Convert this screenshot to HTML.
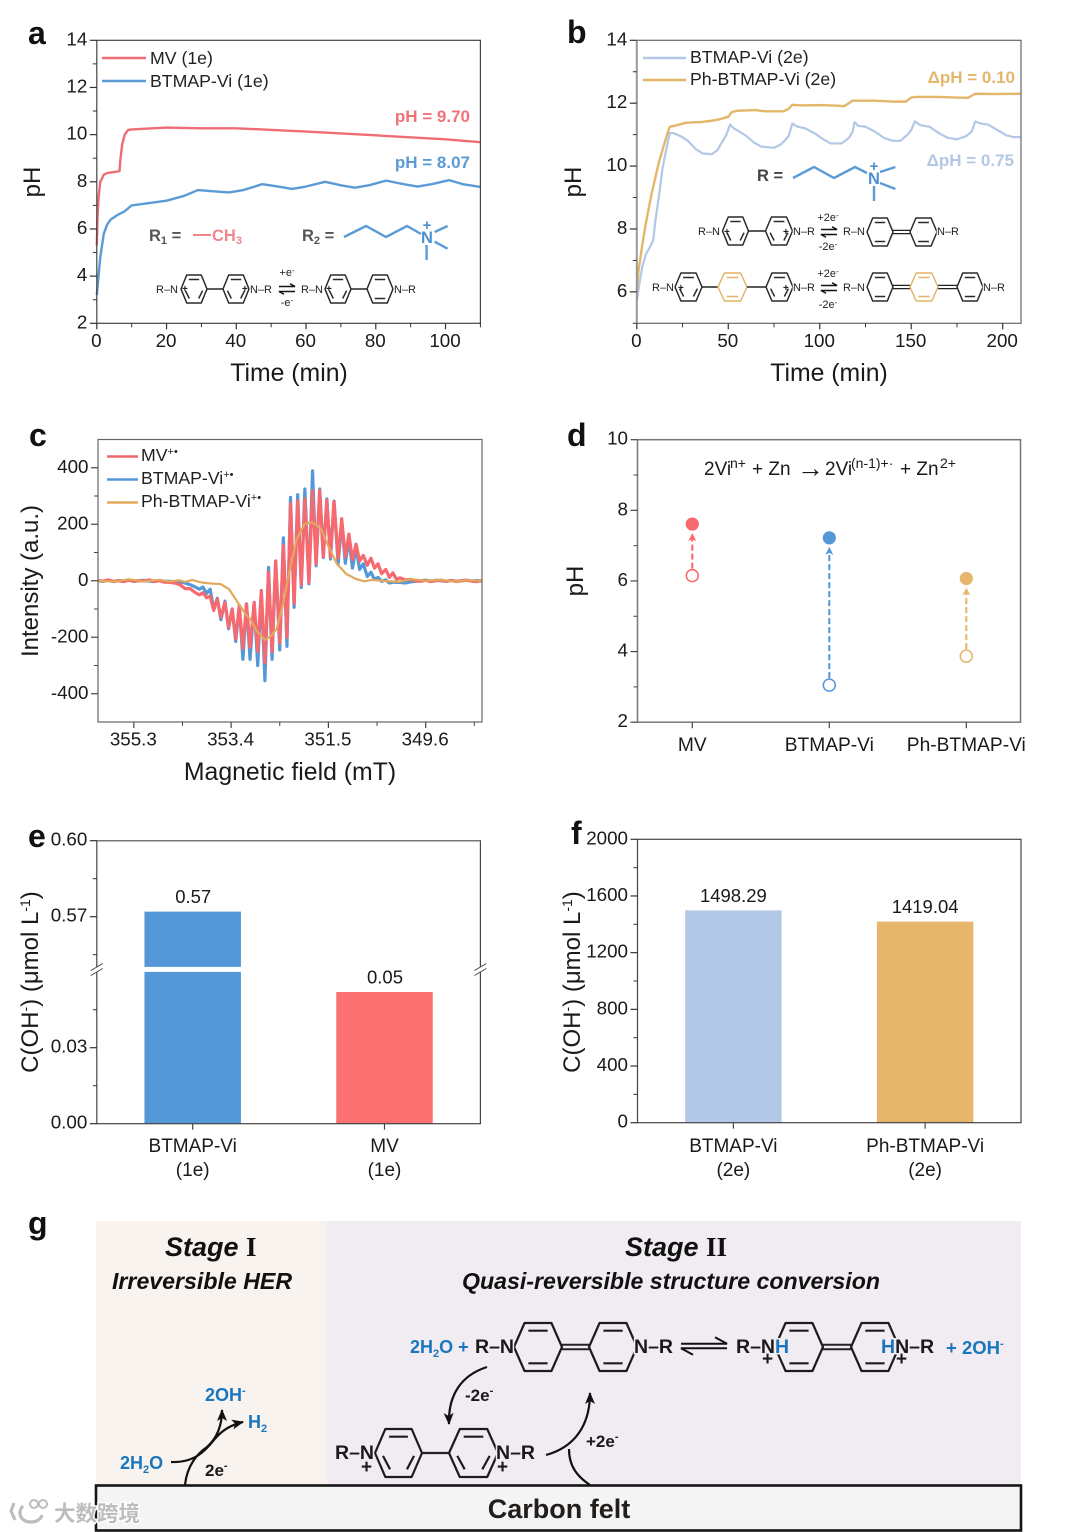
<!DOCTYPE html>
<html lang="en">
<head>
<meta charset="utf-8">
<title>Viologen pH and EPR figure</title>
<style>
html,body{margin:0;padding:0;background:#fff;}
svg{display:block;font-family:"Liberation Sans",Arial,sans-serif;}
.letter{font-size:32px;font-weight:bold;fill:#111;}
.tick{font-size:18.8px;fill:#1a1a1a;}
.dcat{font-size:19.2px;fill:#1a1a1a;}
.title{font-size:24px;fill:#1a1a1a;}
.xtitle{font-size:24.8px;fill:#1a1a1a;}
.legend{font-size:17.7px;fill:#222;}
.anno{font-size:17px;font-weight:bold;}
.cat{font-size:19px;fill:#1a1a1a;}
.val{font-size:18.5px;fill:#1a1a1a;}
.mol{font-size:11px;fill:#222;paint-order:stroke;stroke:#fff;stroke-width:2.4px;}
.chg{font-size:10px;font-weight:bold;fill:#222;}
.gb{font-size:19px;font-weight:bold;fill:#1a1a1a;}
.gn{font-size:19.5px;font-weight:bold;fill:#1a1a1a;paint-order:stroke;stroke:#f1ebf2;stroke-width:3px;}
.gblue{font-size:18px;font-weight:bold;fill:#1a76bd;}
.stage{font-size:27px;font-weight:bold;font-style:italic;fill:#111;}
.sub{font-size:23.15px;font-weight:bold;font-style:italic;fill:#111;}
.roman{font-family:"Liberation Serif",serif;font-style:normal;font-weight:bold;}
</style>
</head>
<body>
<svg id="fig" xmlns="http://www.w3.org/2000/svg" width="1080" height="1532" viewBox="0 0 1080 1532">
  <defs>
    <marker id="headBig" markerWidth="14" markerHeight="14" refX="11" refY="5" orient="auto" markerUnits="userSpaceOnUse"><path d="M0 0 L12 5 L0 10 L3 5 Z" fill="#111"/></marker>
  </defs>

  <g id="panelG">
    <rect x="96" y="1221" width="231" height="264" fill="#f9f3ef"/>
    <rect x="327" y="1221" width="694" height="264" fill="#f1ebf2"/>
    <g id="molecules"></g>
    <text class="stage" x="165" y="1256">Stage <tspan class="roman">I</tspan></text>
    <text class="sub" x="112" y="1289">Irreversible HER</text>
    <text class="stage" x="625" y="1256">Stage <tspan class="roman">II</tspan></text>
    <text class="sub" x="462" y="1289">Quasi-reversible structure conversion</text>

    <text class="gblue" x="205" y="1401">2OH<tspan font-size="11" dy="-7">-</tspan></text>
    <text class="gblue" x="248" y="1428">H<tspan font-size="11" dy="4">2</tspan></text>
    <text class="gblue" x="120" y="1469">2H<tspan font-size="11" dy="4">2</tspan><tspan dy="-4">O</tspan></text>
    <text class="gb" x="205" y="1476" style="font-size:17px">2e<tspan font-size="11" dy="-7">-</tspan></text>
    <path d="M171 1462 C195 1463 206 1450 214 1440 C221 1431 230 1425 243 1422" fill="none" stroke="#111" stroke-width="2.2" marker-end="url(#headBig)"/>
    <path d="M185 1485 C187 1465 198 1453 207 1447 C217 1438 222 1425 222 1410" fill="none" stroke="#111" stroke-width="2.2" marker-end="url(#headBig)"/>

    <text class="gblue" x="410" y="1353">2H<tspan font-size="11" dy="4">2</tspan><tspan dy="-4">O +</tspan></text>
    <text class="gn" x="514" y="1353" text-anchor="end">R–N</text>
    <text class="gn" x="634" y="1353">N–R</text>
    <text class="gn" x="736" y="1353">R–N<tspan fill="#1a76bd">H</tspan></text>
    <text class="gn" x="881" y="1353"><tspan fill="#1a76bd">H</tspan>N–R</text>
    <text class="gb" x="762" y="1365">+</text>
    <text class="gb" x="896" y="1365">+</text>
    <text class="gblue" x="946" y="1354" style="font-size:18.5px">+ 2OH<tspan font-size="11" dy="-7">-</tspan></text>
    <text class="gb" x="465" y="1401" style="font-size:17px">-2e<tspan font-size="11" dy="-7">-</tspan></text>
    <text class="gb" x="586" y="1447" style="font-size:17px">+2e<tspan font-size="11" dy="-7">-</tspan></text>
    <path d="M487 1367 C462 1375 448 1394 449 1424" fill="none" stroke="#111" stroke-width="2.2" marker-end="url(#headBig)"/>
    <path d="M546 1455 C575 1447 590 1425 590 1393" fill="none" stroke="#111" stroke-width="2.2" marker-end="url(#headBig)"/>
    <path d="M590 1485 C578 1477 569 1467 569 1449" fill="none" stroke="#111" stroke-width="2.2"/>
    <text class="gn" x="374" y="1459" text-anchor="end">R–N</text>
    <text class="gn" x="496" y="1459">N–R</text>
    <text class="gb" x="361" y="1473">+</text>
    <text class="gb" x="497" y="1473">+</text>

    <rect x="96" y="1485.5" width="925" height="45" fill="#f4f4f4" stroke="#151515" stroke-width="2.6"/>
    <text x="559" y="1518" text-anchor="middle" font-size="27" font-weight="bold" fill="#221e1c">Carbon felt</text>

    <g>
      <path d="M14 1503 L11 1511 L15 1520 M23 1506 C17 1512 20 1522 31 1522 C37 1522 41 1519 42 1515" fill="none" stroke="#fff" stroke-width="6"/>
      <path d="M14 1503 L11 1511 L15 1520 M23 1506 C17 1512 20 1522 31 1522 C37 1522 41 1519 42 1515" fill="none" stroke="#bdbdbd" stroke-width="3.2"/>
      <circle cx="34" cy="1504" r="4" fill="none" stroke="#bdbdbd" stroke-width="2"/>
      <circle cx="43" cy="1504" r="4" fill="none" stroke="#bdbdbd" stroke-width="2"/>
      <text x="54" y="1521" font-size="21.5" font-weight="bold" fill="#bdbdbd" stroke="#ffffff" stroke-width="2.5" paint-order="stroke" style="font-family:'Liberation Sans','Noto Sans CJK SC',sans-serif">大数跨境</text>
    </g>
  </g>

  <!-- panel letters -->
  <text class="letter" x="28" y="44">a</text>
  <text class="letter" x="567" y="43">b</text>
  <text class="letter" x="29" y="446">c</text>
  <text class="letter" x="567" y="446">d</text>
  <text class="letter" x="28" y="847">e</text>
  <text class="letter" x="571" y="844">f</text>
  <text class="letter" x="28" y="1234">g</text>

  <!-- axis titles -->
  <text class="xtitle" x="289" y="381" text-anchor="middle">Time (min)</text>
  <text class="title" transform="rotate(-90 40 182)" x="40" y="182" text-anchor="middle">pH</text>
  <text class="xtitle" x="829" y="381" text-anchor="middle">Time (min)</text>
  <text class="title" transform="rotate(-90 581 182)" x="581" y="182" text-anchor="middle">pH</text>
  <text class="xtitle" x="290" y="780" text-anchor="middle">Magnetic field (mT)</text>
  <text class="title" transform="rotate(-90 38 581)" x="38" y="581" text-anchor="middle">Intensity (a.u.)</text>
  <text class="title" transform="rotate(-90 583 581)" x="583" y="581" text-anchor="middle">pH</text>
  <text class="title" transform="rotate(-90 38 982)" x="38" y="982" text-anchor="middle">C(OH<tspan font-size="14" dy="-8">-</tspan><tspan dy="8">) (μmol L</tspan><tspan font-size="14" dy="-8">-1</tspan><tspan dy="8">)</tspan></text>
  <text class="title" transform="rotate(-90 580 982)" x="580" y="982" text-anchor="middle">C(OH<tspan font-size="14" dy="-8">-</tspan><tspan dy="8">) (μmol L</tspan><tspan font-size="14" dy="-8">-1</tspan><tspan dy="8">)</tspan></text>

  <!-- legends -->
  <g>
    <line x1="102" y1="58" x2="146" y2="58" stroke="#ee6d74" stroke-width="2.4"/>
    <text class="legend" x="150" y="64">MV (1e)</text>
    <line x1="102" y1="81" x2="146" y2="81" stroke="#5b9bd5" stroke-width="2.4"/>
    <text class="legend" x="150" y="87">BTMAP-Vi (1e)</text>
  </g>
  <g>
    <line x1="643" y1="58" x2="686" y2="58" stroke="#b3c7e6" stroke-width="2.4"/>
    <text class="legend" x="690" y="63">BTMAP-Vi (2e)</text>
    <line x1="643" y1="80" x2="686" y2="80" stroke="#e4b66a" stroke-width="2.4"/>
    <text class="legend" x="690" y="85">Ph-BTMAP-Vi (2e)</text>
  </g>
  <g>
    <line x1="107" y1="456.5" x2="138" y2="456.5" stroke="#f0666e" stroke-width="2.4"/>
    <text class="legend" x="141" y="461">MV<tspan font-size="11" dy="-6">+•</tspan></text>
    <line x1="107" y1="479.5" x2="138" y2="479.5" stroke="#5598d8" stroke-width="2.4"/>
    <text class="legend" x="141" y="484">BTMAP-Vi<tspan font-size="11" dy="-6">+•</tspan></text>
    <line x1="107" y1="502.5" x2="138" y2="502.5" stroke="#e0a95c" stroke-width="2.4"/>
    <text class="legend" x="141" y="507">Ph-BTMAP-Vi<tspan font-size="11" dy="-6">+•</tspan></text>
  </g>

  <!-- annotations -->
  <text class="anno" x="470" y="122" text-anchor="end" fill="#f0737a">pH = 9.70</text>
  <text class="anno" x="470" y="168" text-anchor="end" fill="#5b9bd5">pH = 8.07</text>
  <text class="anno" x="1015" y="83" text-anchor="end" fill="#e4b66a">ΔpH = 0.10</text>
  <text class="anno" x="1014" y="166" text-anchor="end" fill="#b3c7e6">ΔpH = 0.75</text>

  <g>
    <text x="149" y="241" font-size="16.5" font-weight="bold" fill="#555">R<tspan font-size="11" dy="3">1</tspan><tspan dy="-3"> =</tspan></text>
    <line x1="193" y1="235" x2="211" y2="235" stroke="#f0858b" stroke-width="2"/>
    <text x="212" y="241" font-size="16.5" font-weight="bold" fill="#f0858b">CH<tspan font-size="11" dy="3">3</tspan></text>
    <text x="302" y="241" font-size="16.5" font-weight="bold" fill="#555">R<tspan font-size="11" dy="3">2</tspan><tspan dy="-3"> =</tspan></text>
    <path d="M344 237 L366 226 L386 237 L407 226 L421 234 M434.6 232 L447.6 226 M434.6 241.7 L447.6 248.7 M426.6 245 L426.6 260" fill="none" stroke="#5b9bd5" stroke-width="2.4"/>
    <text x="427" y="243" text-anchor="middle" font-size="16.5" font-weight="bold" fill="#4a90d0">N</text>
    <text x="427" y="230" text-anchor="middle" font-size="15" font-weight="bold" fill="#4a90d0">+</text>
  </g>
  <g>
    <text x="757" y="181" font-size="16.5" font-weight="bold" fill="#444">R =</text>
    <path d="M793 178 L814 167 L834 178 L855 167 L867 173 M880 172 L895.4 167 M880 183 L895.4 189 M874 186 L874 201" fill="none" stroke="#5b9bd5" stroke-width="2.4"/>
    <text x="874" y="184" text-anchor="middle" font-size="16.5" font-weight="bold" fill="#4a90d0">N</text>
    <text x="874" y="171" text-anchor="middle" font-size="15" font-weight="bold" fill="#4a90d0">+</text>
  </g>

  <!-- molecule text -->
  <g>
    <text class="mol" x="156" y="293">R–N</text>
    <text class="mol" x="250" y="293">N–R</text>
    <text class="mol" x="301" y="293">R–N</text>
    <text class="mol" x="394" y="293">N–R</text>
    <text class="chg" x="182" y="292">+</text>
    <text class="chg" x="242" y="292">+</text>
    <text class="chg" x="326" y="292">+</text>
    <text class="mol" x="287" y="276" text-anchor="middle">+e<tspan font-size="8" dy="-3">-</tspan></text>
    <text class="mol" x="287" y="306" text-anchor="middle">-e<tspan font-size="8" dy="-3">-</tspan></text>
    <text class="mol" x="698" y="235">R–N</text>
    <text class="mol" x="793" y="235">N–R</text>
    <text class="mol" x="843" y="235">R–N</text>
    <text class="mol" x="937" y="235">N–R</text>
    <text class="chg" x="724" y="235">+</text>
    <text class="chg" x="783" y="235">+</text>
    <text class="mol" x="828" y="221" text-anchor="middle">+2e<tspan font-size="8" dy="-3">-</tspan></text>
    <text class="mol" x="828" y="250" text-anchor="middle">-2e<tspan font-size="8" dy="-3">-</tspan></text>
    <text class="mol" x="652" y="291">R–N</text>
    <text class="mol" x="793" y="291">N–R</text>
    <text class="mol" x="843" y="291">R–N</text>
    <text class="mol" x="983" y="291">N–R</text>
    <text class="chg" x="678" y="291">+</text>
    <text class="chg" x="783" y="291">+</text>
    <text class="mol" x="828" y="277" text-anchor="middle">+2e<tspan font-size="8" dy="-3">-</tspan></text>
    <text class="mol" x="828" y="308" text-anchor="middle">-2e<tspan font-size="8" dy="-3">-</tspan></text>
  </g>

  <text y="475" font-size="19" fill="#1a1a1a"><tspan x="704">2Vi</tspan><tspan x="730" font-size="14" dy="-7">n+</tspan><tspan x="752" dy="7">+ Zn</tspan><tspan x="797" font-size="27" dy="2">→</tspan><tspan x="825" dy="-2">2Vi</tspan><tspan x="851" font-size="14" dy="-7">(n-1)+·</tspan><tspan x="900" dy="7">+ Zn</tspan><tspan x="940" font-size="14" dy="-7">2+</tspan></text>

  <g id="charts"></g>
</svg>

<script>
// ---- panel a data
const aMvTime = [0,0.2,0.5,1,2,3,6.5,6.8,7.3,8,9,10,20,30,40,60,80,100,110];
const aMvPH = [5.3,6.5,7.3,8,8.3,8.37,8.45,9,9.6,10,10.2,10.22,10.3,10.27,10.27,10.13,9.97,9.8,9.68];
const aBtmapTime = [0,0.5,1,2,3,4,6,8,10,15,20,25,29,33,38,42,47.5,52,56,60,65.5,70,74,78,83,88,92,96,101,105,110];
const aBtmapPH = [3.2,4,4.8,5.8,6.2,6.4,6.6,6.75,7,7.1,7.2,7.4,7.65,7.6,7.55,7.65,7.9,7.8,7.7,7.8,8,7.85,7.75,7.85,8.05,7.9,7.8,7.9,8.07,7.9,7.78];
const aXTicks = [0,20,40,60,80,100];
const aXMinor = [10,30,50,70,90,110];
const aYTicks = [2,4,6,8,10,12,14];
const aYMinor = [3,5,7,9,11,13];

// ---- panel b data
const bBtmapTime = [0,1,3,5,7,9,10,12,14,16,18,20,24,28,32,36,41,44,47,49,51,53,56,60,64,68,75,79,83,85,88,92,97,102,106,112,116,118,119,121,125,130,135,140,144,148,150,152,155,160,165,170,175,180,183,185,188,192,197,202,206,210];
const bBtmapPH = [5.7,6.1,6.8,7.2,7.4,7.65,8.2,9,9.9,10.5,11.05,11.05,10.95,10.8,10.55,10.4,10.38,10.5,10.8,11,11.32,11.2,11.1,10.95,10.75,10.62,10.58,10.7,10.95,11.35,11.25,11.2,11.05,10.85,10.72,10.72,10.9,11.1,11.4,11.28,11.25,11.1,10.9,10.8,10.8,11,11.15,11.42,11.3,11.25,11.05,10.9,10.85,10.95,11.1,11.42,11.35,11.32,11.15,10.98,10.92,10.92];
const bPhTime = [0,0.5,1,3,5,8,10,12,14,16,18,22,27,35,42,46,50,52,55,65,70,80,83,85,90,100,110,113,116,118,130,140,147,150,152,165,175,181,185,195,210];
const bPhPH = [6,6.4,6.7,7.5,8.2,9.1,9.6,10.1,10.5,10.9,11.25,11.3,11.38,11.4,11.45,11.5,11.57,11.72,11.76,11.78,11.74,11.74,11.82,11.95,11.93,11.94,11.92,11.9,12,12.08,12.08,12.05,12.05,12.18,12.2,12.2,12.18,12.17,12.3,12.29,12.3];
const bXTicks = [0,50,100,150,200];
const bXMinor = [25,75,125,175];
const bYTicks = [6,8,10,12,14];
const bYMinor = [5,7,9,11,13];

// ---- panel c data
const cField = [356,355.9,355.8,355.7,355.6,355.5,355.4,355.3,355.2,355.1,355,354.9,354.8,354.7,354.6,354.5,354.4,354.3,354.2,354.1,
 354.02,353.95,353.88,353.81,353.74,353.67,353.6,353.52,353.45,353.38,353.31,353.24,353.17,353.1,353.03,352.95,352.88,352.81,352.74,
 352.67,352.6,352.53,352.45,352.38,352.31,352.24,352.17,352.1,352.03,351.96,351.88,351.81,351.74,351.67,351.6,351.53,351.46,351.39,351.31,351.24,351.17,351.1,351.03,350.96,350.89,350.82,350.74,350.67,350.6,350.53,350.46,350.38,350.31,350.24,350.17,
 350.1,350,349.9,349.8,349.7,349.6,349.5,349.4,349.3,349.2,349.1,349,348.9,348.8,348.7,348.6,348.5];
const cBtmap = [0,-2,2,-3,1,-1,3,-2,0,2,-1,-3,1,-2,-2,-3,-4,-8,-14,-22,
 -30,-22,-45,-30,-100,-62,-138,-72,-170,-100,-215,-88,-278,-82,-278,-77,-300,-35,-354,
 47,-278,70,-245,152,-232,295,-94,305,-24,325,-11,389,53,325,82,290,77,282,60,208,62,150,45,118,40,60,15,30,5,12,-2,3,-8,-5,-6,
 -6,-8,-4,-2,0,2,-1,2,0,-2,1,-2,0,2,-1,1,-2];
const cMv = [1,-1,3,-2,0,-3,2,-2,1,-1,3,-2,0,-5,-6,-8,-14,-28,-28,-42,
 -50,-42,-60,-55,-105,-65,-130,-77,-165,-100,-205,-88,-240,-82,-235,-77,-250,-35,-290,
 30,-250,70,-220,124,-200,272,-80,283,-15,290,-5,318,60,320,85,285,85,280,80,220,85,165,75,130,70,90,55,80,45,60,25,40,12,28,5,
 10,3,5,0,-2,1,-3,0,2,-2,1,-3,0,2,-1,-3,1];
const cPhField = [356,355.7,355.4,355.1,354.8,354.6,354.42,354.3,354.16,354,353.9,353.77,353.6,353.44,353.29,353.11,353.03,352.89,352.74,352.62,352.51,352.4,352.27,352.13,351.97,351.82,351.64,351.49,351.33,351.15,350.96,350.8,350.65,350.4,350.12,349.9,349.6,349.3,349,348.8,348.5];
const cPh = [0,-3,5,-2,3,-3,2,-4,3,-5,-8,-10,-12,-30,-71,-120,-135,-180,-209,-195,-170,-94,24,142,201,207,183,118,59,24,6,-2,3,-1,-4,6,0,3,-3,2,0];
const cXTicks = [355.3,353.4,351.5,349.6];
const cXTickLabels = ['355.3','353.4','351.5','349.6'];
const cXMinor = [354.35,352.45,350.55,348.65];
const cYTicks = [-400,-200,0,200,400];
const cYMinor = [-300,-100,100,300];

// ---- panel d data
const dCategories = ['MV','BTMAP-Vi','Ph-BTMAP-Vi'];
const dInitial = [6.15,3.05,3.87];
const dFinal = [7.61,7.22,6.07];
const dYTicks = [2,4,6,8,10];
const dYMinor = [3,5,7,9];

// ---- panel e data
const eCategories = ['BTMAP-Vi','MV'];
const eCategorySub = ['(1e)','(1e)'];
const eValues = [0.572,0.052];
const eLabels = ['0.57','0.05'];
const eYTicks = [0,0.03,0.57,0.6];
const eYTickLabels = ['0.00','0.03','0.57','0.60'];
const eYMinor = [0.015,0.045,0.555,0.585];

// ---- panel f data
const fCategories = ['BTMAP-Vi','Ph-BTMAP-Vi'];
const fCategorySub = ['(2e)','(2e)'];
const fValues = [1498.29,1419.04];
const fYTicks = [0,400,800,1200,1600,2000];
const fYMinor = [200,600,1000,1400,1800];

const NS = 'http://www.w3.org/2000/svg';
const charts = document.getElementById('charts');
const molecules = document.getElementById('molecules');

function mk(parent, tag, attrs, name) {
  const n = document.createElementNS(NS, tag);
  for (const k in attrs) n.setAttribute(k, attrs[k]);
  
  
  parent.appendChild(n);
  return n;
}
function linear(d0, d1, r0, r1) {
  return v => r0 + (v - d0) * (r1 - r0) / (d1 - d0);
}
function pathFrom(xs, ys, sx, sy) {
  return xs.map((x, i) => (i ? 'L' : 'M') + sx(x).toFixed(2) + ' ' + sy(ys[i]).toFixed(2)).join(' ');
}
function frame(g, prefix, box, color, w) {
  mk(g, 'rect', {x: box.x0, y: box.y0, width: box.x1 - box.x0, height: box.y1 - box.y0, fill: 'none', stroke: color, 'stroke-width': w}, prefix + '-plot-frame');
}
function yAxis(g, prefix, box, sy, major, minor, labels, color) {
  major.forEach((v, i) => {
    mk(g, 'line', {x1: box.x0 - 7, x2: box.x0, y1: sy(v), y2: sy(v), stroke: color, 'stroke-width': 1.2}, prefix + '-y-tick');
    const t = mk(g, 'text', {class: 'tick', x: box.x0 - 9.5, y: sy(v) + 5, 'text-anchor': 'end'}, prefix + '-y-tick-label');
    t.textContent = labels ? labels[i] : String(v);
  });
  minor.forEach(v => {
    mk(g, 'line', {x1: box.x0 - 4, x2: box.x0, y1: sy(v), y2: sy(v), stroke: color, 'stroke-width': 1}, prefix + '-y-minor-tick');
  });
}
function xAxis(g, prefix, box, sx, major, minor, labels, color) {
  major.forEach((v, i) => {
    mk(g, 'line', {x1: sx(v), x2: sx(v), y1: box.y1, y2: box.y1 + 6, stroke: color, 'stroke-width': 1.2}, prefix + '-x-tick');
    const t = mk(g, 'text', {class: 'tick', x: sx(v) - 0.5, y: box.y1 + 23.5, 'text-anchor': 'middle'}, prefix + '-x-tick-label');
    t.textContent = labels ? labels[i] : String(v);
  });
  minor.forEach(v => {
    mk(g, 'line', {x1: sx(v), x2: sx(v), y1: box.y1, y2: box.y1 + 4, stroke: color, 'stroke-width': 1}, prefix + '-x-minor-tick');
  });
}
function line(g, d, color, w, name) {
  mk(g, 'path', {d: d, fill: 'none', stroke: color, 'stroke-width': w, 'stroke-linejoin': 'round', 'stroke-linecap': 'butt'}, name);
}

// Panel a
(function () {
  const g = mk(charts, 'g', {}, 'panel-a-chart');
  const box = {x0: 96.8, x1: 480.4, y0: 40.3, y1: 323.3};
  const sx = linear(0, 110, box.x0, box.x1), sy = linear(2, 14, box.y1, box.y0);
  line(g, pathFrom(aBtmapTime, aBtmapPH, sx, sy), '#5b9bd5', 2.4, 'a-btmap-line');
  line(g, pathFrom(aMvTime, aMvPH, sx, sy), '#ee6d74', 2.4, 'a-mv-line');
  frame(g, 'a', box, '#444', 1.2);
  yAxis(g, 'a', box, sy, aYTicks, aYMinor, null, '#333');
  xAxis(g, 'a', box, sx, aXTicks, aXMinor, null, '#333');
})();

// Panel b
(function () {
  const g = mk(charts, 'g', {}, 'panel-b-chart');
  const box = {x0: 636.8, x1: 1021, y0: 40.3, y1: 323.3};
  const sx = linear(0, 210, box.x0, box.x1), sy = linear(5, 14, box.y1, box.y0);
  line(g, pathFrom(bBtmapTime, bBtmapPH, sx, sy), '#b3c7e6', 2.2, 'b-btmap-line');
  line(g, pathFrom(bPhTime, bPhPH, sx, sy), '#e4b66a', 2.4, 'b-ph-line');
  frame(g, 'b', box, '#666', 1.2);
  mk(g, 'line', {x1: box.x0, x2: box.x0, y1: box.y0, y2: box.y1, stroke: '#999', 'stroke-width': 2}, 'b-y-axis-line');
  yAxis(g, 'b', box, sy, bYTicks, bYMinor, null, '#333');
  xAxis(g, 'b', box, sx, bXTicks, bXMinor, null, '#333');
})();

// Panel c
(function () {
  const g = mk(charts, 'g', {}, 'panel-c-chart');
  const box = {x0: 98, x1: 482, y0: 439.5, y1: 722};
  const sx = linear(356, 348.5, box.x0, box.x1), sy = linear(-500, 500, box.y1, box.y0);
  line(g, pathFrom(cField, cBtmap, sx, sy), '#5598d8', 3.2, 'c-btmap-line');
  line(g, pathFrom(cField, cMv, sx, sy), '#f7696f', 3.2, 'c-mv-line');
  line(g, pathFrom(cPhField, cPh, sx, sy), '#e0a95c', 2.2, 'c-ph-line');
  frame(g, 'c', box, '#666', 1.2);
  yAxis(g, 'c', box, sy, cYTicks, cYMinor, null, '#444');
  xAxis(g, 'c', box, sx, cXTicks, cXMinor, cXTickLabels, '#444');
})();

// Panel d
(function () {
  const g = mk(charts, 'g', {}, 'panel-d-chart');
  const box = {x0: 637.5, x1: 1020.5, y0: 439.7, y1: 722.2};
  const sx = i => box.x0 + (i + 0.4) * 137;
  const sy = linear(2, 10, box.y1, box.y0);
  const colors = ['#f7696f', '#5598d8', '#e6b66c'];
  frame(g, 'd', box, '#777', 1.5);
  yAxis(g, 'd', box, sy, dYTicks, dYMinor, null, '#444');
  dCategories.forEach((c, i) => {
    const x = sx(i), col = colors[i];
    mk(g, 'line', {x1: x, x2: x, y1: box.y1, y2: box.y1 + 6, stroke: '#444', 'stroke-width': 1.2}, 'd-x-tick');
    const t = mk(g, 'text', {class: 'dcat', x: x, y: 751, 'text-anchor': 'middle'}, 'd-category-label');
    t.textContent = c;
    const yStart = sy(dInitial[i]) - 7, yEnd = sy(dFinal[i]) + 9;
    mk(g, 'line', {x1: x, x2: x, y1: yStart, y2: yEnd + 5, stroke: col, 'stroke-width': 2.1, 'stroke-dasharray': '6 3'}, 'd-change-arrow');
    mk(g, 'path', {d: 'M' + (x - 4) + ' ' + (yEnd + 8) + ' L' + x + ' ' + yEnd + ' L' + (x + 4) + ' ' + (yEnd + 8) + ' L' + x + ' ' + (yEnd + 6) + ' Z', fill: col}, 'd-arrow-head');
    mk(g, 'circle', {cx: x, cy: sy(dInitial[i]), r: 6, fill: '#fff', stroke: col, 'stroke-width': 1.5}, 'd-initial-point');
    mk(g, 'circle', {cx: x, cy: sy(dFinal[i]), r: 6.6, fill: col}, 'd-final-point');
  });
})();

// Panel e
(function () {
  const g = mk(charts, 'g', {}, 'panel-e-chart');
  const box = {x0: 96.8, x1: 480.4, y0: 840.7, y1: 1123.7};
  const unit = 2533;
  const breakY = 969.5;
  const sy = v => v < 0.3 ? box.y1 - v * unit : box.y0 + (0.6 - v) * unit;
  const sx = i => box.x0 + (box.x1 - box.x0) * (i + 0.5) / 2;
  const colors = ['#5598d8', '#fb7070'];
  const barW = 96.5;
  eValues.forEach((v, i) => {
    mk(g, 'rect', {x: sx(i) - barW / 2, y: sy(v), width: barW, height: box.y1 - sy(v), fill: colors[i]}, 'e-bar');
    if (v > 0.3) {
      mk(g, 'rect', {x: sx(i) - barW / 2 - 1, y: breakY - 2.6, width: barW + 2, height: 5, fill: '#fff'}, 'e-bar-break');
    }
    const t = mk(g, 'text', {class: 'val', x: sx(i) + 0.5, y: sy(v) - 8.5, 'text-anchor': 'middle'}, 'e-bar-value');
    t.textContent = eLabels[i];
    const a = mk(g, 'text', {class: 'cat', x: sx(i), y: 1152, 'text-anchor': 'middle'}, 'e-category-label');
    a.textContent = eCategories[i];
    const b = mk(g, 'text', {class: 'cat', x: sx(i), y: 1176, 'text-anchor': 'middle'}, 'e-category-sub-label');
    b.textContent = eCategorySub[i];
    mk(g, 'line', {x1: sx(i), x2: sx(i), y1: box.y1, y2: box.y1 + 6, stroke: '#444', 'stroke-width': 1.2}, 'e-x-tick');
  });
  frame(g, 'e', box, '#444', 1.2);
  mk(g, 'line', {x1: box.x0, x2: box.x1, y1: box.y0, y2: box.y0, stroke: '#777', 'stroke-width': 1.5}, 'e-top-axis');
  yAxis(g, 'e', box, sy, eYTicks, eYMinor, eYTickLabels, '#333');
  [box.x0, box.x1].forEach(x => {
    mk(g, 'rect', {x: x - 2, y: breakY - 2, width: 4, height: 4, fill: '#fff'}, 'e-axis-break-gap');
    mk(g, 'path', {d: 'M' + (x - 6) + ' ' + (breakY + 1) + ' L' + (x + 6) + ' ' + (breakY - 6) + ' M' + (x - 6) + ' ' + (breakY + 6) + ' L' + (x + 6) + ' ' + (breakY - 1), stroke: '#444', 'stroke-width': 1, fill: 'none'}, 'e-axis-break-mark');
  });
})();

// Panel f
(function () {
  const g = mk(charts, 'g', {}, 'panel-f-chart');
  const box = {x0: 637.5, x1: 1021, y0: 839.3, y1: 1122.7};
  const sy = linear(0, 2000, box.y1, box.y0);
  const sx = i => box.x0 + (box.x1 - box.x0) * (i + 0.5) / 2;
  const colors = ['#b3c7e6', '#e6b66c'];
  const barW = 96.5;
  fValues.forEach((v, i) => {
    mk(g, 'rect', {x: sx(i) - barW / 2, y: sy(v), width: barW, height: box.y1 - sy(v), fill: colors[i]}, 'f-bar');
    const t = mk(g, 'text', {class: 'val', x: sx(i), y: sy(v) - 8.5, 'text-anchor': 'middle'}, 'f-bar-value');
    t.textContent = v.toFixed(2);
    const a = mk(g, 'text', {class: 'cat', x: sx(i), y: 1152, 'text-anchor': 'middle'}, 'f-category-label');
    a.textContent = fCategories[i];
    const b = mk(g, 'text', {class: 'cat', x: sx(i), y: 1176, 'text-anchor': 'middle'}, 'f-category-sub-label');
    b.textContent = fCategorySub[i];
    mk(g, 'line', {x1: sx(i), x2: sx(i), y1: box.y1, y2: box.y1 + 6, stroke: '#444', 'stroke-width': 1.2}, 'f-x-tick');
  });
  frame(g, 'f', box, '#444', 1.2);
  yAxis(g, 'f', box, sy, fYTicks, fYMinor, null, '#333');
})();

// ---- chemistry drawing helpers
function ring(cx, cy, rx, ry, kind, color, sw, name) {
  const ix = rx * 0.56;
  const pts = [[-rx, 0], [-ix, -ry], [ix, -ry], [rx, 0], [ix, ry], [-ix, ry]];
  let d = 'M' + pts.map(p => (cx + p[0]) + ' ' + (cy + p[1])).join(' L') + ' Z';
  const tx = rx * 0.4, ty = ry * 0.68;
  d += ' M' + (cx - tx) + ' ' + (cy - ty) + ' L' + (cx + tx) + ' ' + (cy - ty);
  if (kind === 'q') {
    d += ' M' + (cx - tx) + ' ' + (cy + ty) + ' L' + (cx + tx) + ' ' + (cy + ty);
  } else {
    d += ' M' + (cx - rx * 0.66) + ' ' + (cy + ry * 0.12) + ' L' + (cx - rx * 0.36) + ' ' + (cy + ry * 0.68);
    d += ' M' + (cx + rx * 0.66) + ' ' + (cy + ry * 0.12) + ' L' + (cx + rx * 0.36) + ' ' + (cy + ry * 0.68);
  }
  mk(molecules, 'path', {d: d, fill: 'none', stroke: color, 'stroke-width': sw, 'stroke-linejoin': 'round'}, name);
}
function bond(x1, x2, y, dbl, sw, name) {
  if (dbl) {
    const o = Math.max(1.6, sw * 1.1);
    mk(molecules, 'path', {d: 'M' + x1 + ' ' + (y - o) + ' L' + x2 + ' ' + (y - o) + ' M' + x1 + ' ' + (y + o) + ' L' + x2 + ' ' + (y + o), stroke: '#222', 'stroke-width': sw, fill: 'none'}, name);
  } else {
    mk(molecules, 'line', {x1: x1, x2: x2, y1: y, y2: y, stroke: '#222', 'stroke-width': sw}, name);
  }
}
function equilibrium(x1, x2, y, gap, sw, head, name) {
  const d = 'M' + x1 + ' ' + (y - gap) + ' L' + x2 + ' ' + (y - gap) + ' L' + (x2 - head) + ' ' + (y - gap - head * 0.55) +
    ' M' + x2 + ' ' + (y + gap) + ' L' + x1 + ' ' + (y + gap) + ' L' + (x1 + head) + ' ' + (y + gap + head * 0.55);
  mk(molecules, 'path', {d: d, stroke: '#111', 'stroke-width': sw, fill: 'none'}, name);
}
const DARK = '#2a2a2a', GOLD = '#e3b469';

// panel a molecules
ring(194, 289, 13, 14, 'a', DARK, 1.5, 'viologen-a-ring-1');
bond(207, 223, 289, false, 1.5, 'viologen-a-bond-1');
ring(236, 289, 13, 14, 'a', DARK, 1.5, 'viologen-a-ring-2');
equilibrium(279, 295, 289, 2.5, 1.5, 5, 'viologen-a-equilibrium');
ring(338, 289, 13, 14, 'a', DARK, 1.5, 'viologen-a-ring-3');
bond(351, 367, 289, false, 1.5, 'viologen-a-bond-2');
ring(380, 289, 13, 14, 'q', DARK, 1.5, 'viologen-a-ring-4');

// panel b row 1
ring(735.5, 231, 13, 14, 'a', DARK, 1.5, 'viologen-b1-ring-1');
bond(748, 765, 231, false, 1.5, 'viologen-b1-bond-1');
ring(779, 231, 13.5, 14, 'a', DARK, 1.5, 'viologen-b1-ring-2');
equilibrium(821, 837, 232, 2.5, 1.5, 5, 'viologen-b1-equilibrium');
ring(880, 232, 13, 14, 'q', DARK, 1.5, 'viologen-b1-ring-3');
bond(893, 910, 232, true, 1.2, 'viologen-b1-bond-2');
ring(923.5, 232, 13.5, 14, 'q', DARK, 1.5, 'viologen-b1-ring-4');

// panel b row 2
ring(688.5, 287, 13.5, 14, 'a', DARK, 1.5, 'viologen-b2-ring-1');
bond(702, 718, 287, false, 1.5, 'viologen-b2-bond-1');
ring(732.5, 287, 14.5, 14, 'q', GOLD, 1.5, 'viologen-b2-phenyl');
bond(747, 766, 287, false, 1.5, 'viologen-b2-bond-2');
ring(779.5, 287, 13.5, 14, 'a', DARK, 1.5, 'viologen-b2-ring-2');
equilibrium(821, 837, 288, 2.5, 1.5, 5, 'viologen-b2-equilibrium');
ring(880, 287, 13, 14, 'q', DARK, 1.5, 'viologen-b2-ring-3');
bond(893, 910, 287, true, 1.2, 'viologen-b2-bond-3');
ring(924, 287, 14, 14, 'q', GOLD, 1.5, 'viologen-b2-quinoid');
bond(938, 957, 287, true, 1.2, 'viologen-b2-bond-4');
ring(970, 287, 13, 14, 'q', DARK, 1.5, 'viologen-b2-ring-4');

// panel g molecules
ring(538, 1347, 24, 24, 'q', '#1c1c1c', 2.2, 'scheme-top-ring-1');
bond(562, 589, 1347, true, 2, 'scheme-top-bond');
ring(613, 1347, 24, 24, 'q', '#1c1c1c', 2.2, 'scheme-top-ring-2');
equilibrium(681, 727, 1346, 2.2, 2, 12, 'scheme-top-equilibrium');
ring(799, 1347, 24, 24, 'q', '#1c1c1c', 2.2, 'scheme-protonated-ring-1');
bond(823, 851, 1347, true, 2, 'scheme-protonated-bond');
ring(875, 1347, 24, 24, 'q', '#1c1c1c', 2.2, 'scheme-protonated-ring-2');
ring(398.5, 1453, 23.5, 24, 'a', '#1c1c1c', 2.2, 'scheme-bottom-ring-1');
bond(422, 449, 1453, false, 2.2, 'scheme-bottom-bond');
ring(473.5, 1453, 24.5, 24, 'a', '#1c1c1c', 2.2, 'scheme-bottom-ring-2');
</script>
</body>
</html>
